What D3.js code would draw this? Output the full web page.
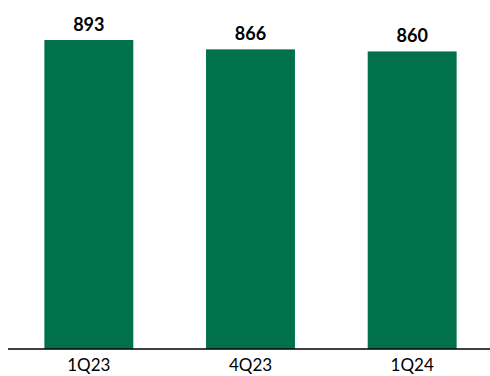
<!DOCTYPE html>
<html>
<head>
<meta charset="utf-8">
<script src="https://cdn.jsdelivr.net/npm/d3@7"></script>
<style>
  body { margin: 0; background: #fff; }
  svg { display: block; font-family: Lato, "Open Sans", sans-serif; }
</style>
</head>
<body>
<svg></svg>
<script>
// data
var quarters = ["1Q23", "4Q23", "1Q24"];
var values = [893, 866, 860];

var svgWidth = 490, svgHeight = 376;
var baseline = 349; // y of the axis line

var svg = d3.select('svg')
    .attr('width', svgWidth)
    .attr('height', svgHeight);

var x = d3.scaleBand()
    .domain(quarters)
    .range([8, 493])
    .paddingInner(0.45)
    .paddingOuter(0.225);

var y = d3.scaleLinear()
    .domain([0, 1000])
    .range([baseline, baseline - 346]);

// bars
svg.selectAll('rect.bar')
    .data(values)
    .enter()
    .append('rect')
    .attr('class', 'bar')
    .attr('x', function(d, i) { return x(quarters[i]); })
    .attr('y', function(d) { return y(d); })
    .attr('width', x.bandwidth())
    .attr('height', function(d) { return y(0) - y(d); })
    .attr('fill', '#00714b');

// value labels
svg.selectAll('text.val')
    .data(values)
    .enter()
    .append('text')
    .attr('class', 'val')
    .attr('x', function(d, i) { return x(quarters[i]) + x.bandwidth() / 2; })
    .attr('y', function(d) { return y(d) - 9.5; })
    .attr('text-anchor', 'middle')
    .attr('font-size', 18)
    .attr('font-weight', 'bold')
    .attr('fill', '#000')
    .text(function(d) { return d; });

// x axis
var axis = svg.append('g')
    .attr('transform', 'translate(0,' + baseline + ')')
    .call(d3.axisBottom(x).tickSize(0).tickPadding(10));
axis.select('.domain')
    .attr('d', 'M8,0H490')
    .attr('stroke', '#000')
    .attr('stroke-width', 1.5);
axis.selectAll('.tick text')
    .attr('font-family', 'Lato, "Open Sans", sans-serif')
    .attr('font-size', 17)
    .attr('fill', '#000');
</script>
</body>
</html>
